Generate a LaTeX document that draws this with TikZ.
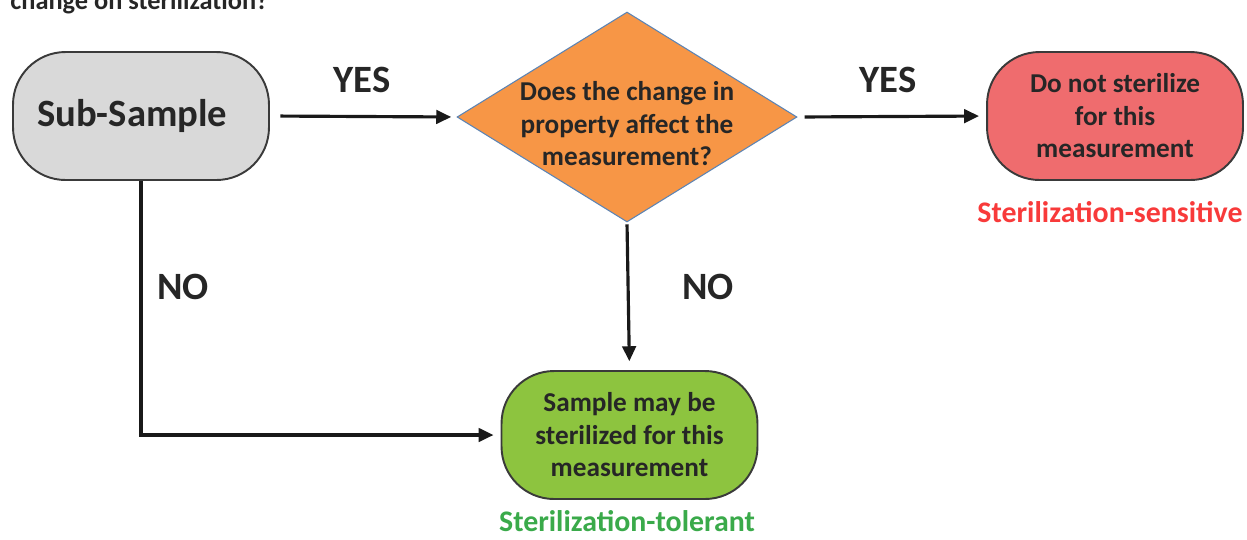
\documentclass[tikz,border=0pt]{standalone}
\usepackage{fontspec}
\setmainfont{Carlito}
\usetikzlibrary{shapes.geometric,arrows.meta}
\definecolor{txt}{HTML}{262626}
\definecolor{boxline}{HTML}{3A3A3A}
\definecolor{grayfill}{HTML}{D9D9D9}
\definecolor{orangefill}{HTML}{F79646}
\definecolor{dline}{HTML}{5B84B5}
\definecolor{redfill}{HTML}{EF6C6E}
\definecolor{greenfill}{HTML}{8DC43F}
\definecolor{redlab}{HTML}{F83A3A}
\definecolor{greenlab}{HTML}{3AAA4A}
\tikzset{
  px/.style={x=0.02cm,y=-0.02cm},
  termbox/.style={draw=boxline, line width=1.1pt, rounded corners=1.05cm,
    minimum width=5.12cm, minimum height=2.56cm, inner sep=0pt,
    text=txt, font=\bfseries\fontsize{15.5}{18.5}\selectfont, align=center},
  decide/.style={diamond, draw=dline, line width=0.6pt, fill=orangefill,
    minimum width=6.8cm, minimum height=4.2cm, inner sep=0pt},
  decidetext/.style={text=txt, font=\bfseries\fontsize{15.5}{18.5}\selectfont, align=center, inner sep=0pt},
  answer/.style={text=txt, font=\bfseries\fontsize{22}{24}\selectfont, inner sep=0pt},
  tag/.style={font=\bfseries\fontsize{17}{20}\selectfont, inner sep=0pt},
  flow/.style={line width=1.8pt, draw=black!90, -{Triangle[length=0.3cm,width=0.27cm]}},
  flowline/.style={line width=1.8pt, draw=black!90},
}
\begin{document}
\begin{tikzpicture}[px]
\clip (0,0) rectangle (1247,539);
\fill[white] (0,0) rectangle (1247,539);
% cut-off heading
\node[anchor=base west, inner sep=0pt, text=txt, font=\bfseries\fontsize{15}{18}\selectfont] (head) at (10,9) {change on sterilization?};
% boxes
\node[termbox, fill=grayfill, font=\bfseries\fontsize{22}{24}\selectfont] (sub) at (141,116) {Sub-Sample\hspace*{10pt}};
\node[decide] (q) at (627,117) {};
\node[decidetext] (qt) at (627,124) {Does the change in\\property affect the\\measurement?};
\node[termbox, fill=redfill] (no) at (1115,116) {Do not sterilize\\for this\\measurement};
\node[termbox, fill=greenfill] (yes) at (629.5,435) {Sample may be\\sterilized for this\\measurement};
% tags
\node[tag, text=redlab] (sens) at (1110,212) {Sterilization-sensitive};
\node[tag, text=greenlab] (tol) at (627,521) {Sterilization-tolerant};
% connectors
\draw[flow, shorten <=6pt, shorten >=3pt] (sub.east) -- (q.west);
\draw[flow, shorten <=4pt, shorten >=4pt] (q.east) -- (no.west);
\draw[flow, shorten <=1pt, shorten >=5pt] (q.south) -- (yes.north);
\coordinate (bend) at (sub.south |- yes.west);
\draw[flowline] (sub.south) -- (bend);
\draw[flow, shorten >=4pt] ([xshift=-0.9pt]bend) -- (yes.west);
% answers
\node[answer] (y1) at (362,80) {YES};
\node[answer] (y2) at (888,80) {YES};
\node[answer] (n1) at (183,287) {NO};
\node[answer] (n2) at (708,287) {NO};
\end{tikzpicture}
\end{document}
